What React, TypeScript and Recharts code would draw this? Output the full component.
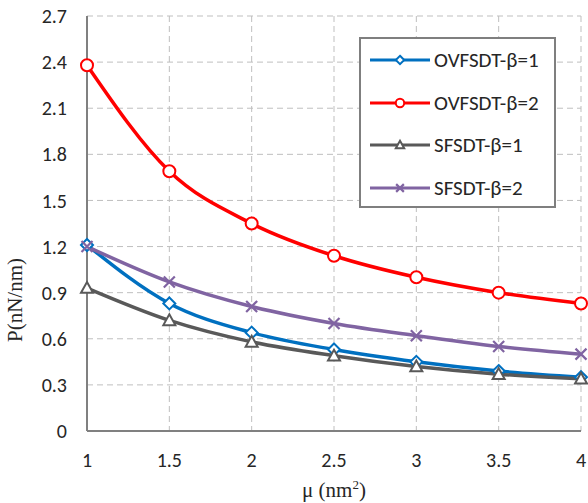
import React from "react";
import { LineChart, Line, XAxis, YAxis, CartesianGrid } from "recharts";

const mu = [1, 1.5, 2, 2.5, 3, 3.5, 4];
const ovfsdtB1 = [1.21, 0.83, 0.64, 0.53, 0.45, 0.39, 0.35];
const ovfsdtB2 = [2.38, 1.69, 1.35, 1.14, 1.0, 0.9, 0.83];
const sfsdtB1 = [0.93, 0.72, 0.58, 0.49, 0.42, 0.37, 0.34];
const sfsdtB2 = [1.2, 0.97, 0.81, 0.7, 0.62, 0.55, 0.5];

const xTicks = [1, 1.5, 2, 2.5, 3, 3.5, 4];
const yTicks = [0, 0.3, 0.6, 0.9, 1.2, 1.5, 1.8, 2.1, 2.4, 2.7];

const data = mu.map((m, i) => ({
  mu: m,
  a: ovfsdtB1[i],
  b: ovfsdtB2[i],
  c: sfsdtB1[i],
  d: sfsdtB2[i],
}));

const series = [
  { key: "a", name: "OVFSDT-β=1", color: "#0070C0", shape: "diamond" },
  { key: "b", name: "OVFSDT-β=2", color: "#FF0000", shape: "circle" },
  { key: "c", name: "SFSDT-β=1", color: "#595959", shape: "triangle" },
  { key: "d", name: "SFSDT-β=2", color: "#8064A2", shape: "cross" },
];

const font = "Calibri, Carlito, 'Liberation Sans', Arial, sans-serif";
const serif = "'Liberation Serif', 'Times New Roman', serif";

function Marker({ cx, cy, shape, color, s = 1 }: any) {
  if (cx == null || cy == null) return null;
  if (shape === "circle")
    return <circle cx={cx} cy={cy} r={6 * s} fill="#fff" stroke={color} strokeWidth={2} />;
  if (shape === "diamond") {
    const r = 6 * s;
    return (
      <path
        d={`M${cx},${cy - r}L${cx + r},${cy}L${cx},${cy + r}L${cx - r},${cy}Z`}
        fill="#fff"
        stroke={color}
        strokeWidth={2}
      />
    );
  }
  if (shape === "triangle") {
    const r = 6 * s;
    return (
      <path
        d={`M${cx},${cy - r}L${cx + r},${cy + r * 0.8}L${cx - r},${cy + r * 0.8}Z`}
        fill="#fff"
        stroke={color}
        strokeWidth={2}
      />
    );
  }
  const r = 5.5 * s;
  return (
    <path
      d={`M${cx - r},${cy - r}L${cx + r},${cy + r}M${cx + r},${cy - r}L${cx - r},${cy + r}`}
      stroke={color}
      strokeWidth={2.2}
    />
  );
}

function LegendBox() {
  return (
    <div
      style={{
        position: "absolute",
        left: 359,
        top: 37,
        width: 197,
        height: 171,
        border: "2px solid #7f7f7f",
        background: "#fff",
        boxSizing: "border-box",
        fontFamily: font,
        fontSize: 21,
        color: "#262626",
      }}
    >
      {series.map((s) => (
        <div key={s.key} style={{ display: "flex", alignItems: "center", height: 42.5 }}>
          <svg width={66} height={20} style={{ marginLeft: 7 }}>
            <line x1={2} y1={10} x2={62} y2={10} stroke={s.color} strokeWidth={3} />
            <Marker cx={32} cy={10} shape={s.shape} color={s.color} s={0.7} />
          </svg>
          <span>{s.name}</span>
        </div>
      ))}
    </div>
  );
}

const fmtY = (v: number) => (v === 0 ? "0" : v.toFixed(1));

export default function App() {
  return (
    <div style={{ position: "absolute", left: 0, top: 0, background: "#fff", width: 588, height: 503 }}>
      <LineChart
        width={588}
        height={503}
        data={data}
        margin={{ top: 16, right: 7, left: 0, bottom: 0 }}
      >
        <CartesianGrid
          stroke="#bfbfbf"
          strokeDasharray="6 4"
          horizontalValues={yTicks}
          verticalValues={xTicks}
        />
        <XAxis
          dataKey="mu"
          type="number"
          domain={[1, 4]}
          ticks={xTicks}
          height={72}
          axisLine={{ stroke: "#808080", strokeWidth: 2 }}
          tickLine={false}
          tick={{ fill: "#262626", fontSize: 20, fontFamily: font, dy: 14 }}
          label={(props: any) => {
            const vb = props.viewBox;
            return (
              <text
                x={vb.x + vb.width / 2}
                y={497}
                textAnchor="middle"
                fontFamily={serif}
                fontSize={21}
                fill="#262626"
              >
                μ (nm
                <tspan dy={-8} fontSize={13}>2</tspan>
                <tspan dy={8}>)</tspan>
              </text>
            );
          }}
        />
        <YAxis
          type="number"
          domain={[0, 2.7]}
          ticks={yTicks}
          width={87}
          tickFormatter={fmtY}
          axisLine={{ stroke: "#808080", strokeWidth: 2 }}
          tickLine={false}
          tick={{ fill: "#262626", fontSize: 20, fontFamily: font, dx: -12 }}
          label={() => (
            <text
              x={22}
              y={300}
              transform="rotate(-90 22 300)"
              textAnchor="middle"
              fontFamily={serif}
              fontSize={21}
              fill="#262626"
            >
              P(nN/nm)
            </text>
          )}
        />
        <XAxis
          xAxisId="top"
          orientation="top"
          type="number"
          domain={[1, 4]}
          height={0}
          tick={false}
          tickLine={false}
          axisLine={{ stroke: "#808080", strokeWidth: 2 }}
        />
        <YAxis
          yAxisId="right"
          orientation="right"
          domain={[0, 2.7]}
          width={0}
          tick={false}
          tickLine={false}
          axisLine={{ stroke: "#808080", strokeWidth: 2 }}
        />
        {series.map((s) => (
          <Line
            key={s.key}
            dataKey={s.key}
            name={s.name}
            type="monotone"
            stroke={s.color}
            strokeWidth={3.5}
            isAnimationActive={false}
            dot={(p: any) => (
              <Marker key={`${s.key}-${p.index}`} cx={p.cx} cy={p.cy} shape={s.shape} color={s.color} />
            )}
            activeDot={false}
          />
        ))}
      </LineChart>
      <LegendBox />
    </div>
  );
}
